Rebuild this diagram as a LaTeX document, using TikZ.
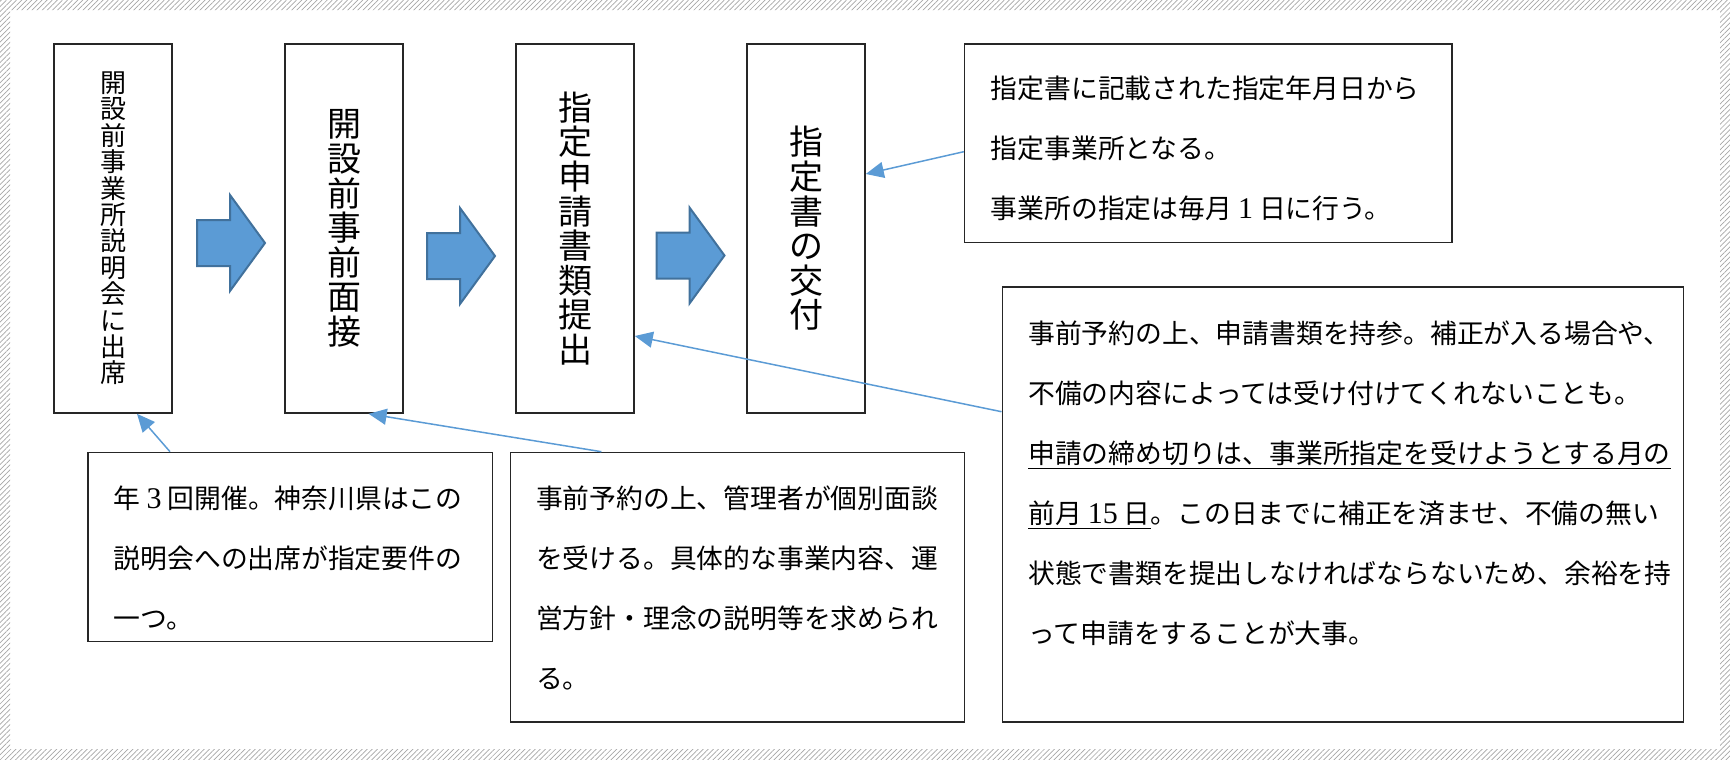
\documentclass[tikz,border=0pt]{standalone}
\usepackage{fontspec}
\newfontfamily\jpfont{Noto Sans CJK JP}
\newfontfamily\numfont{Liberation Serif}[Scale=1.12]
\usetikzlibrary{arrows.meta,patterns.meta}
\definecolor{linkblue}{HTML}{5B9BD5}
\definecolor{arrowedge}{HTML}{41719C}
\definecolor{boxline}{HTML}{262626}
\tikzset{
  stepbox/.style={draw=boxline, line width=0.8pt, minimum width=59pt,
    minimum height=184.5pt, inner sep=0pt, align=center},
  notebox/.style={draw=boxline, line width=0.8pt, anchor=north west, inner sep=0pt},
  notetext/.style={anchor=north west, inner sep=0pt, align=left,
    font={\jpfont\fontsize{13.4pt}{30pt}\selectfont}},
  blockarrow/.style={fill=linkblue, draw=arrowedge, line width=1pt},
  link/.style={draw=linkblue, line width=0.75pt, -{Triangle[length=9pt,width=8pt]}}
}
\begin{document}
\begin{tikzpicture}[x=0.5pt, y=-0.5pt]
  \useasboundingbox (0,0) rectangle (1730,760);
  % hatched frame
  \fill[pattern={Lines[angle=45,distance=1.8pt,line width=0.35pt]}, pattern color=black!35,
    even odd rule] (0,0) rectangle (1730,760) (10,10) rectangle (1720,749);

  % steps
  \node[stepbox, font={\jpfont\fontsize{13pt}{13.2pt}\selectfont}] (s1) at (113,228.5)
    {開\\設\\前\\事\\業\\所\\説\\明\\会\\に\\出\\席};
  \node[stepbox, font={\jpfont\fontsize{17pt}{17.3pt}\selectfont}] (s2) at (344,228.5)
    {開\\設\\前\\事\\前\\面\\接};
  \node[stepbox, font={\jpfont\fontsize{17pt}{17.3pt}\selectfont}] (s3) at (575,228.5)
    {指\\定\\申\\請\\書\\類\\提\\出};
  \node[stepbox, font={\jpfont\fontsize{17pt}{17.3pt}\selectfont}] (s4) at (806,228.5)
    {指\\定\\書\\の\\交\\付};

  % block arrows between the steps
  \foreach \x/\y in {197/243, 427/256, 656.5/255.5}
    \draw[blockarrow] (\x,\y-23) -- ++(33,0) -- ++(0,-25) -- (\x+68,\y)
      -- (\x+33,\y+48) -- ++(0,-25) -- (\x,\y+23) -- cycle;

  % notes
  \node[notebox, minimum width=202.15pt, minimum height=94.5pt] (n1) at (87.4,451.7) {};
  \node[notetext] (t1) at ([shift={(13pt,-17pt)}]n1.north west)
    {年 {\numfont 3} 回開催。神奈川県はこの\\説明会への出席が指定要件の\\一つ。};

  \node[notebox, minimum width=227pt, minimum height=134.65pt] (n2) at (509.6,451.7) {};
  \node[notetext] (t2) at ([shift={(13pt,-17pt)}]n2.north west)
    {事前予約の上、管理者が個別面談\\を受ける。具体的な事業内容、運\\営方針・理念の説明等を求められ\\る。};

  \node[notebox, minimum width=243.6pt, minimum height=99.2pt] (n3) at (963.8,43.3) {};
  \node[notetext] (t3) at ([shift={(13.3pt,-16pt)}]n3.north west)
    {指定書に記載された指定年月日から\\指定事業所となる。\\事業所の指定は毎月 {\numfont 1} 日に行う。};

  \node[notebox, minimum width=340.5pt, minimum height=217.5pt] (n4) at (1001.5,286) {};
  \node[notetext] (t4) at ([shift={(13.2pt,-17pt)}]n4.north west)
    {事前予約の上、申請書類を持参。補正が入る場合や、\\
     不備の内容によっては受け付けてくれないことも。\\
     \underline{申請の締め切りは、事業所指定を受けようとする月の}\\
     \underline{前月 {\numfont 15} 日}。この日までに補正を済ませ、不備の無い\\
     状態で書類を提出しなければならないため、余裕を持\\
     って申請をすることが大事。};

  % connectors
  \draw[link] ([xshift=41.3pt]n1.north west) -- ([xshift=12pt]s1.south);
  \draw[link] ([xshift=45.9pt]n2.north west) -- ([xshift=12.3pt]s2.south);
  \draw[link] ([yshift=-62.85pt]n4.north west) -- ([yshift=-53.75pt]s3.east);
  \draw[link] ([yshift=-54.2pt]n3.north west) -- ([yshift=27.25pt]s4.east);
\end{tikzpicture}
\end{document}
